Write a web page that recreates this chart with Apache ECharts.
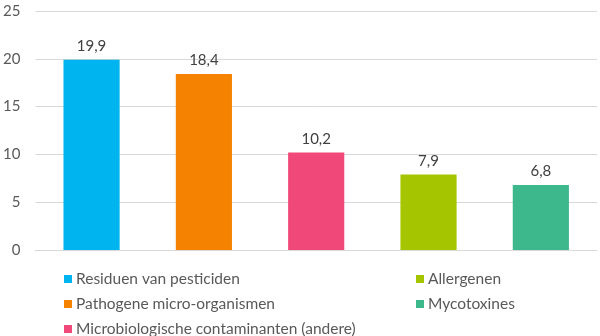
<!DOCTYPE html>
<html>
<head>
<meta charset="utf-8">
<script src="https://cdn.jsdelivr.net/npm/echarts@6/dist/echarts.min.js"></script>
<style>
  html, body { margin: 0; padding: 0; background: #fff; }
  #chart { width: 600px; height: 336px; }
</style>
</head>
<body>
<div id="chart"></div>
<script>
// Share of notifications per hazard category
const categories = [
  'Residuen van pesticiden',
  'Pathogene micro-organismen',
  'Microbiologische contaminanten (andere)',
  'Allergenen',
  'Mycotoxines'
];
const values = [19.9, 18.4, 10.2, 7.9, 6.8];
const colors = ['#00B4F0', '#F58200', '#F04878', '#A5C500', '#3DB78C'];
const yTicks = { min: 0, max: 25, interval: 5 };

const legendLeft = categories.slice(0, 3);
const legendRight = categories.slice(3);

const FONT = 'Lato, "Open Sans", sans-serif';

// one series per category so each gets its own legend entry
const series = categories.map((name, i) => ({
  name: name,
  type: 'bar',
  stack: 'all',
  barWidth: '50%',
  itemStyle: { color: colors[i] },
  data: categories.map((c, j) => (j === i ? values[i] : null)),
  label: {
    show: true,
    position: 'top',
    distance: 6,
    color: '#404040',
    fontFamily: FONT,
    fontSize: 15,
    formatter: p => String(p.value).replace('.', ',')
  }
}));

const legendCommon = {
  orient: 'vertical',
  icon: 'rect',
  itemWidth: 8,
  itemHeight: 8,
  itemGap: 9,
  top: 266,
  height: 70,
  selectedMode: false,
  textStyle: { color: '#595959', fontFamily: FONT, fontSize: 15.5, lineHeight: 15, padding: [0, 0, 0, -1] }
};

const chart = echarts.init(document.getElementById('chart'), null, { renderer: 'canvas' });
chart.setOption({
  animation: false,
  grid: { left: 35, right: 3, top: 11, bottom: 86, containLabel: false },
  legend: [
    Object.assign({}, legendCommon, { left: 59, data: legendLeft }),
    Object.assign({}, legendCommon, { left: 411, data: legendRight })
  ],
  xAxis: {
    type: 'category',
    data: categories,
    axisLine: { show: true, lineStyle: { color: '#D9D9D9' } },
    axisTick: { show: false },
    axisLabel: { show: false }
  },
  yAxis: {
    type: 'value',
    min: yTicks.min,
    max: yTicks.max,
    interval: yTicks.interval,
    axisLine: { show: false },
    axisTick: { show: false },
    axisLabel: { color: '#595959', fontFamily: FONT, fontSize: 15, margin: 15 },
    splitLine: { lineStyle: { color: '#D9D9D9' } }
  },
  series: series
});
</script>
</body>
</html>
